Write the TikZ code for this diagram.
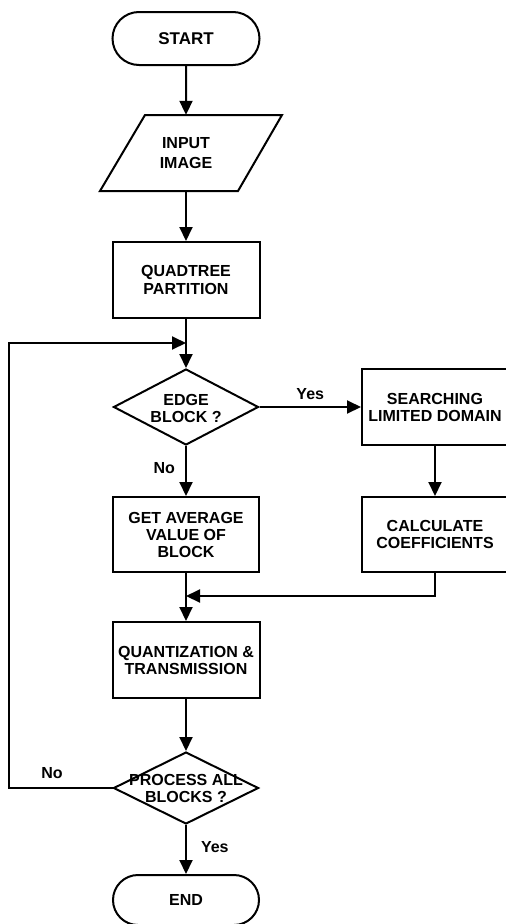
\documentclass[tikz,border=0pt]{standalone}
\usepackage{fontspec}
\setmainfont{Liberation Sans}
\usetikzlibrary{arrows.meta,shapes.geometric,shapes.misc}
\begin{document}
\begin{tikzpicture}[x=1pt,y=-1pt,
  every node/.style={font=\fontsize{16}{17}\selectfont\bfseries, align=center, inner sep=0pt},
  ln/.style={line width=2pt},
  arr/.style={ln,-{Triangle[width=13pt,length=14pt]}},
  procbox/.style={draw, ln, rectangle, minimum width=146pt, minimum height=76pt},
  term/.style={draw, ln, rounded rectangle, minimum width=147pt, minimum height=53pt},
  dec/.style={draw, ln, diamond, minimum width=145pt, minimum height=76pt}
]
\useasboundingbox (0,0) rectangle (506,924);
\clip (0,0) rectangle (506,924);

% nodes
\node[term, font=\fontsize{17}{18}\selectfont\bfseries] (start) at (186,38.5) {START};
\draw[ln] (145,115) -- (282,115) -- (238,191) -- (100,191) -- cycle;
\node[minimum height=76pt] (inp) at (186,153) {INPUT\\[3pt]IMAGE};
\node[procbox, minimum width=147pt] (quad) at (186,280) {QUADTREE\\[1pt]PARTITION};
\node[dec] (edge) at (186,407) {};
\node (edget) at (186,408) {EDGE\\BLOCK ?};
\node[procbox] (search) at (435,407) {SEARCHING\\LIMITED DOMAIN};
\node[procbox, minimum height=75pt] (avg) at (186,534.5) {GET AVERAGE\\VALUE OF\\BLOCK};
\node[procbox, minimum height=75pt] (calc) at (435,534.5) {CALCULATE\\COEFFICIENTS};
\node[procbox, minimum width=147pt] (quant) at (186,660) {QUANTIZATION \&\\TRANSMISSION};
\node[dec, minimum height=72pt] (proc) at (186,788) {};
\node (proct) at (186,788) {PROCESS ALL\\BLOCKS ?};
\node[term, minimum width=146pt, minimum height=50pt] (end) at (186,900) {END};

\coordinate (loopL) at (9,343);
\coordinate (loopJ) at (186,343);
\coordinate (mrg) at (186,596);

% connectors
\draw[arr] (start) -- (inp);
\draw[arr] (inp) -- (quad);
\draw[arr] (quad) -- (edge);
\draw[arr] (edge) -- (search) node[pos=0.5, above=6pt] (yes1) {Yes};
\draw[arr] (edge) -- (avg) node[pos=0.45, left=10pt] (no1) {No};
\draw[arr] (search) -- (calc);
\draw[arr] (calc.south) |- (mrg);
\draw[arr] (avg) -- (quant);
\draw[arr] (quant) -- (proc);
\draw[arr] (proc.west) -| (loopL) -- (loopJ);
\node (no2) at (52,773) {No};
\draw[arr] (proc) -- (end) node[pos=0.45, right=14pt] (yes2) {Yes};
\end{tikzpicture}
\end{document}
